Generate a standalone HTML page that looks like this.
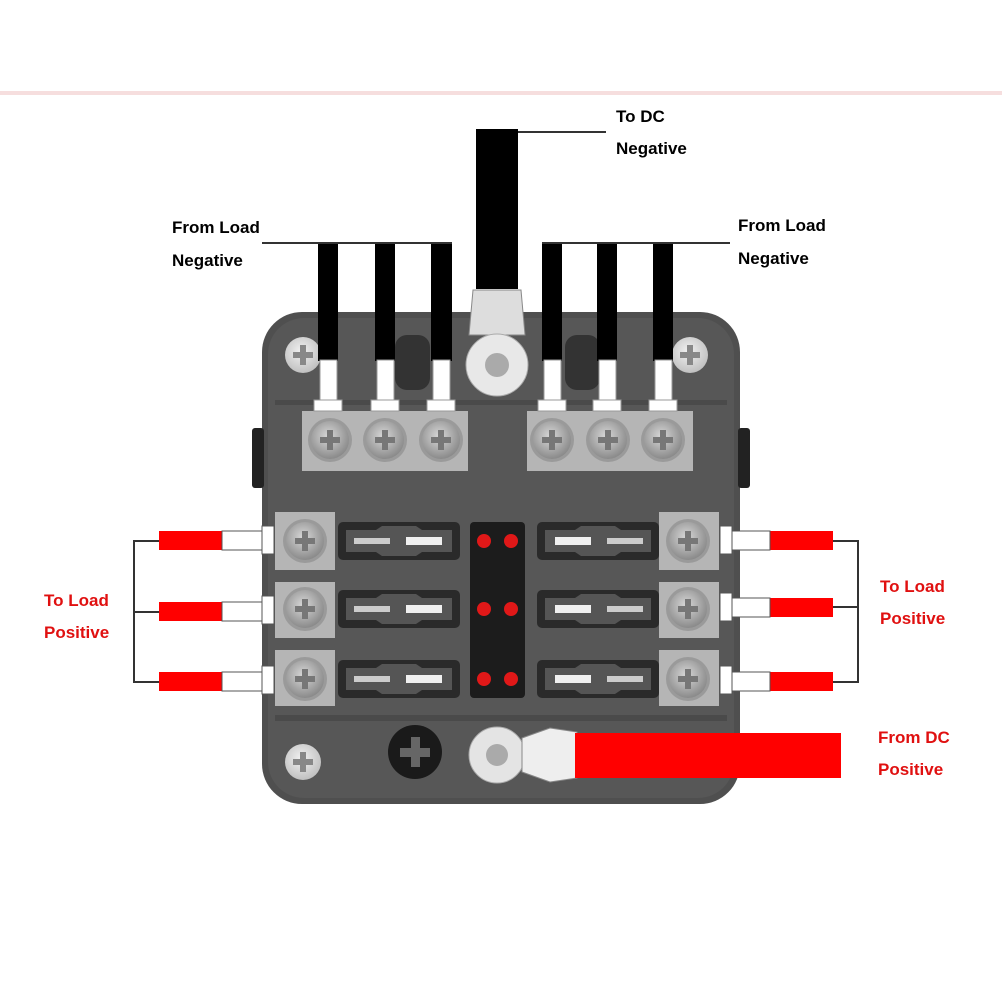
<!DOCTYPE html>
<html><head><meta charset="utf-8"><style>
html,body{margin:0;padding:0;background:#fff;}
svg{display:block;}
text{font-family:"Liberation Sans",Arial,sans-serif;font-weight:bold;font-size:17px;}
</style></head><body>
<svg width="1002" height="1002" viewBox="0 0 1002 1002" xmlns="http://www.w3.org/2000/svg">
<defs>
<radialGradient id="scr" cx="45%" cy="40%" r="60%"><stop offset="0" stop-color="#d8d8d8"/><stop offset="1" stop-color="#8a8a8a"/></radialGradient>
<radialGradient id="cs" cx="45%" cy="40%" r="60%"><stop offset="0" stop-color="#f2f2f2"/><stop offset="1" stop-color="#c0c0c0"/></radialGradient>
<g id="screw"><circle r="22" fill="#9a9a9a"/><circle r="19" fill="url(#scr)"/><rect x="-3" y="-10" width="6" height="20" fill="#777"/><rect x="-10" y="-3" width="20" height="6" fill="#777"/></g>
<g id="cscrew"><circle r="18" fill="url(#cs)"/><rect x="-3" y="-10" width="6" height="20" fill="#888"/><rect x="-10" y="-3" width="20" height="6" fill="#888"/></g>
<g id="fuse"><rect x="0" y="-19" width="122" height="38" rx="5" fill="#2a2a2a"/><path d="M8,-11 H38 L44,-15 H78 L84,-11 H114 V11 H84 L78,15 H44 L38,11 H8 Z" fill="#555"/><rect x="16" y="-3" width="36" height="6" fill="#ccc"/><rect x="68" y="-4" width="36" height="8" fill="#f0f0f0"/></g>
</defs>
<rect width="1002" height="1002" fill="#fff"/>
<rect x="0" y="91" width="1002" height="4" fill="#f6dede"/>
<!-- body -->
<rect x="262" y="312" width="478" height="492" rx="40" fill="#4f4f4f"/>
<rect x="268" y="318" width="466" height="480" rx="36" fill="#575757"/>
<rect x="252" y="428" width="12" height="60" rx="3" fill="#222"/>
<rect x="738" y="428" width="12" height="60" rx="3" fill="#222"/>
<rect x="275" y="400" width="452" height="5" fill="#4a4a4a"/>
<rect x="275" y="715" width="452" height="6" fill="#4a4a4a"/>
<rect x="395" y="335" width="35" height="55" rx="12" fill="#333"/>
<rect x="565" y="335" width="35" height="55" rx="12" fill="#333"/>
<!-- corner screws -->
<use href="#cscrew" x="303" y="355"/><use href="#cscrew" x="690" y="355"/><use href="#cscrew" x="303" y="762"/>
<circle cx="415" cy="752" r="27" fill="#1a1a1a"/><rect x="411" y="737" width="9" height="30" fill="#666"/><rect x="400" y="748" width="30" height="9" fill="#666"/>
<!-- top terminal blocks -->
<rect x="302" y="411" width="166" height="60" fill="#b5b5b5"/>
<rect x="527" y="411" width="166" height="60" fill="#b5b5b5"/>
<use href="#screw" x="330" y="440"/><use href="#screw" x="385" y="440"/><use href="#screw" x="441" y="440"/>
<use href="#screw" x="552" y="440"/><use href="#screw" x="608" y="440"/><use href="#screw" x="663" y="440"/>
<!-- top wires -->
<g fill="#000">
<rect x="318" y="243" width="20" height="118"/><rect x="375" y="243" width="20" height="118"/><rect x="431" y="243" width="21" height="118"/>
<rect x="542" y="243" width="20" height="118"/><rect x="597" y="243" width="20" height="118"/><rect x="653" y="243" width="20" height="118"/>
<rect x="476" y="129" width="42" height="160"/>
</g>
<g fill="#fff" stroke="#999" stroke-width="1">
<rect x="320" y="360" width="17" height="41"/><rect x="377" y="360" width="17" height="41"/><rect x="433" y="360" width="17" height="41"/>
<rect x="544" y="360" width="17" height="41"/><rect x="599" y="360" width="17" height="41"/><rect x="655" y="360" width="17" height="41"/>
<rect x="314" y="400" width="28" height="11"/><rect x="371" y="400" width="28" height="11"/><rect x="427" y="400" width="28" height="11"/>
<rect x="538" y="400" width="28" height="11"/><rect x="593" y="400" width="28" height="11"/><rect x="649" y="400" width="28" height="11"/>
</g>
<path d="M473,290 L521,290 L525,335 L469,335 Z" fill="#ddd" stroke="#888"/>
<circle cx="497" cy="365" r="31" fill="#e8e8e8" stroke="#aaa"/><circle cx="497" cy="365" r="12" fill="#aaa"/>
<!-- lines & labels top -->
<g stroke="#333" stroke-width="2"><line x1="262" y1="243" x2="452" y2="243"/><line x1="542" y1="243" x2="730" y2="243"/><line x1="518" y1="132" x2="606" y2="132"/></g>
<text x="172" y="233">From Load</text><text x="172" y="266">Negative</text>
<text x="738" y="231">From Load</text><text x="738" y="264">Negative</text>
<text x="616" y="122">To DC</text><text x="616" y="154">Negative</text>
<!-- side terminals -->
<g fill="#b5b5b5"><rect x="275" y="512" width="60" height="58"/><rect x="275" y="582" width="60" height="56"/><rect x="275" y="650" width="60" height="56"/>
<rect x="659" y="512" width="60" height="58"/><rect x="659" y="582" width="60" height="56"/><rect x="659" y="650" width="60" height="56"/></g>
<use href="#screw" x="305" y="541"/><use href="#screw" x="305" y="609"/><use href="#screw" x="305" y="679"/>
<use href="#screw" x="688" y="541"/><use href="#screw" x="688" y="609"/><use href="#screw" x="688" y="679"/>
<!-- fuses -->
<use href="#fuse" x="338" y="541"/><use href="#fuse" x="338" y="609"/><use href="#fuse" x="338" y="679"/>
<g transform="translate(1197,0) scale(-1,1)"><use href="#fuse" x="538" y="541"/><use href="#fuse" x="538" y="609"/><use href="#fuse" x="538" y="679"/></g>
<rect x="470" y="522" width="55" height="176" rx="4" fill="#1c1c1c"/>
<g fill="#e01818"><circle cx="484" cy="541" r="7"/><circle cx="511" cy="541" r="7"/><circle cx="484" cy="609" r="7"/><circle cx="511" cy="609" r="7"/><circle cx="484" cy="679" r="7"/><circle cx="511" cy="679" r="7"/></g>
<!-- left red wires -->
<g stroke="#333" stroke-width="2" fill="none"><path d="M159,541 H134 V682 H159"/><line x1="134" y1="612" x2="159" y2="612"/>
<path d="M833,541 H858 V682 H833"/><line x1="858" y1="607" x2="833" y2="607"/></g>
<g fill="#f00"><rect x="159" y="531" width="63" height="19"/><rect x="159" y="602" width="63" height="19"/><rect x="159" y="672" width="63" height="19"/>
<rect x="770" y="531" width="63" height="19"/><rect x="770" y="598" width="63" height="19"/><rect x="770" y="672" width="63" height="19"/></g>
<g fill="#fff" stroke="#555"><rect x="222" y="531" width="40" height="19"/><rect x="222" y="602" width="40" height="19"/><rect x="222" y="672" width="40" height="19"/>
<rect x="731" y="531" width="39" height="19"/><rect x="731" y="598" width="39" height="19"/><rect x="731" y="672" width="39" height="19"/>
<rect x="262" y="526" width="12" height="28"/><rect x="262" y="596" width="12" height="28"/><rect x="262" y="666" width="12" height="28"/>
<rect x="720" y="526" width="12" height="28"/><rect x="720" y="593" width="12" height="28"/><rect x="720" y="666" width="12" height="28"/></g>
<text x="44" y="606" fill="#e01010">To Load</text><text x="44" y="638" fill="#e01010">Positive</text>
<text x="880" y="592" fill="#e01010">To Load</text><text x="880" y="624" fill="#e01010">Positive</text>
<!-- bottom positive -->
<circle cx="497" cy="755" r="28" fill="#e4e4e4" stroke="#aaa"/><circle cx="497" cy="755" r="11" fill="#aaa"/>
<path d="M522,738 L550,728 L577,732 L577,778 L550,782 L522,772 Z" fill="#eee" stroke="#888"/>
<rect x="575" y="733" width="266" height="45" fill="#f00"/>
<text x="878" y="743" fill="#e01010">From DC</text><text x="878" y="775" fill="#e01010">Positive</text>
</svg>
</body></html>
